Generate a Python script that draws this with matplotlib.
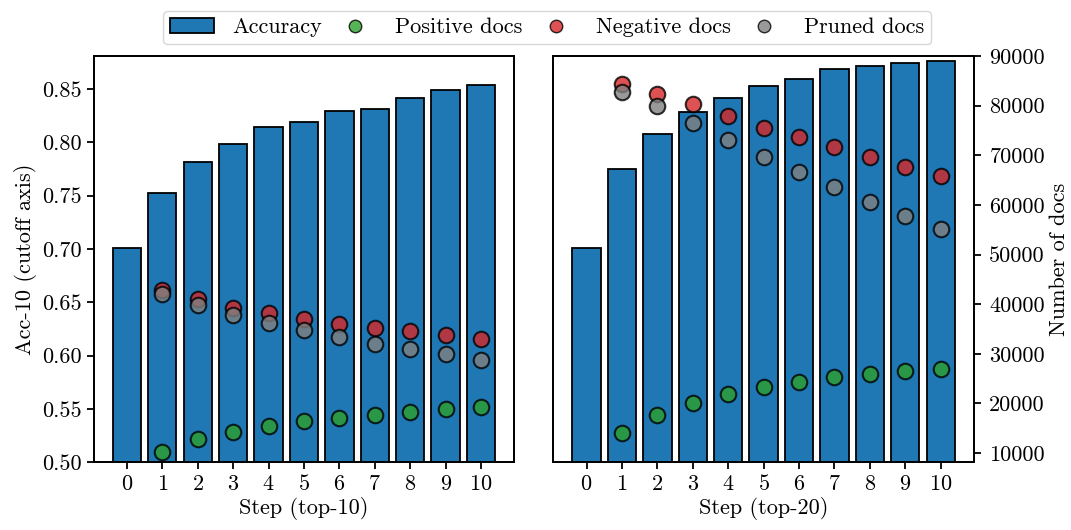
import matplotlib
matplotlib.use("Agg")
import matplotlib.pyplot as plt
from matplotlib.patches import Patch
from matplotlib.lines import Line2D

plt.rcParams['font.family'] = ['cmr10', 'DejaVu Serif']
plt.rcParams['axes.formatter.use_mathtext'] = True
plt.rcParams['font.size'] = 16

steps = list(range(11))
steps_docs = list(range(1, 11))

# top-10
acc_top10 = [0.701, 0.752, 0.781, 0.798, 0.814, 0.819, 0.829, 0.831, 0.841, 0.849, 0.854]
pos_top10 = [10150, 12750, 14300, 15450, 16450, 17150, 17750, 18350, 18800, 19200]
neg_top10 = [42800, 41000, 39300, 38300, 37100, 36100, 35200, 34550, 33750, 33000]
pru_top10 = [42000, 39800, 37800, 36300, 34700, 33350, 32050, 30950, 29900, 28750]

# top-20
acc_top20 = [0.701, 0.775, 0.808, 0.828, 0.8415, 0.853, 0.859, 0.869, 0.871, 0.874, 0.876]
pos_top20 = [14050, 17600, 20000, 21850, 23250, 24300, 25300, 26000, 26600, 27000]
neg_top20 = [84300, 82450, 80250, 77900, 75600, 73650, 71700, 69600, 67650, 65900]
pru_top20 = [82800, 79950, 76550, 73100, 69700, 66600, 63550, 60550, 57800, 55100]

bar_color = '#1f77b4'
pos_color = 'tab:green'
neg_color = 'tab:red'
pru_color = 'gray'

fig = plt.figure(figsize=(10.71, 5.3), dpi=100)
ax1 = fig.add_axes([0.0874, 0.1277, 0.3928, 0.7672])
ax2 = fig.add_axes([0.5166, 0.1277, 0.3928, 0.7672], sharey=ax1)
tw1 = ax1.twinx()
tw2 = ax2.twinx()
tw1.sharey(tw2)

panels = [
    (ax1, tw1, acc_top10, pos_top10, neg_top10, pru_top10, 'Step (top-10)'),
    (ax2, tw2, acc_top20, pos_top20, neg_top20, pru_top20, 'Step (top-20)'),
]
for ax, tw, acc, pos, neg, pru, xlabel in panels:
    ax.bar(steps, acc, width=0.8, color=bar_color, edgecolor='black', linewidth=1.3)
    tw.scatter(steps_docs, pos, s=125, color=pos_color, alpha=0.8, edgecolor='black', linewidth=1.5)
    tw.scatter(steps_docs, neg, s=125, color=neg_color, alpha=0.8, edgecolor='black', linewidth=1.5)
    tw.scatter(steps_docs, pru, s=125, color=pru_color, alpha=0.8, edgecolor='black', linewidth=1.5)
    ax.set_xticks(steps)
    ax.set_xlabel(xlabel, labelpad=2)
    ax.tick_params(length=5, width=1.3)
    tw.tick_params(length=5, width=1.3)
    for sp in list(ax.spines.values()) + list(tw.spines.values()):
        sp.set_linewidth(1.3)

ax1.set_ylim(0.5, 0.881)
ax1.set_yticks([0.50, 0.55, 0.60, 0.65, 0.70, 0.75, 0.80, 0.85])
ax1.yaxis.set_major_formatter(matplotlib.ticker.FormatStrFormatter('%.2f'))
ax1.set_ylabel('Acc-10 (cutoff axis)')
ax2.tick_params(axis='y', left=False, labelleft=False)

tw2.set_ylim(8120, 90080)
tw2.set_yticks(range(10000, 90001, 10000))
tw2.yaxis.set_major_formatter(matplotlib.ticker.FormatStrFormatter('%d'))
tw2.tick_params(axis='y', pad=6)
tw1.tick_params(axis='y', right=False, labelright=False)
tw2.set_ylabel('Number of docs', labelpad=3)

handles = [
    Patch(facecolor=bar_color, edgecolor='black', linewidth=1.3, label='Accuracy'),
    Line2D([], [], linestyle='none', marker='o', markersize=9, markerfacecolor=pos_color,
           markeredgecolor='black', alpha=0.8, label='Positive docs'),
    Line2D([], [], linestyle='none', marker='o', markersize=9, markerfacecolor=neg_color,
           markeredgecolor='black', alpha=0.8, label='Negative docs'),
    Line2D([], [], linestyle='none', marker='o', markersize=9, markerfacecolor=pru_color,
           markeredgecolor='black', alpha=0.8, label='Pruned docs'),
]
fig.legend(handles=handles, loc='upper center', bbox_to_anchor=(0.511, 1.0), ncol=4,
           fontsize=16, columnspacing=0.5, borderpad=0.3)

fig.savefig('out.png', dpi=100)
